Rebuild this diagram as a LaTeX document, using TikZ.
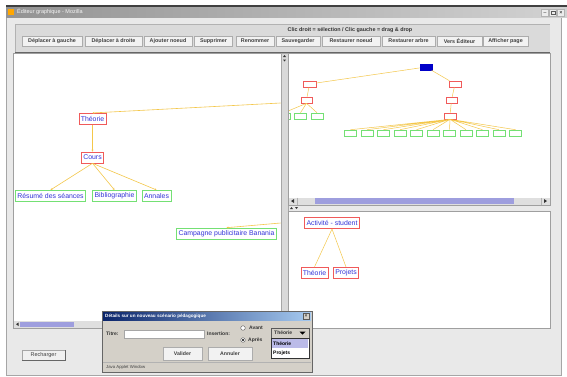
\documentclass[tikz,border=0pt]{standalone}
\usepackage{fontspec}
\setmainfont{Liberation Sans}
\usetikzlibrary{arrows.meta}

\definecolor{fondfen}{HTML}{E9E9E9}
\definecolor{fondbarre}{HTML}{DADADA}
\definecolor{lavande}{HTML}{9E9EDE}
\definecolor{lien}{HTML}{F4C74A}
\definecolor{rouge}{HTML}{F05A5A}
\definecolor{vert}{HTML}{74E074}
\definecolor{texte}{HTML}{3434D8}
\definecolor{bleunoeud}{HTML}{0000C8}
\definecolor{bleutitre}{HTML}{0A246A}
\definecolor{bleuclair}{HTML}{A6CAF0}
\definecolor{grisdlg}{HTML}{D4D0C8}

\newcommand{\taille}[1]{\fontsize{#1}{#1}\selectfont}

\begin{document}
\begin{tikzpicture}[
    x=1pt, y=-1pt,
    bouton/.style={draw=gray!65, fill=gray!10, minimum height=10pt, inner sep=0,
                   font=\taille{5.4}\bfseries, text=black!75},
    noeudR/.style={draw=rouge, line width=0.6pt, fill=white, inner xsep=2pt, inner ysep=0,
                   minimum height=11.5pt, font=\taille{6.9}, text=texte},
    noeudV/.style={noeudR, draw=vert},
    mini/.style={draw=rouge, line width=0.6pt, fill=white, minimum width=12pt,
                 minimum height=6pt, inner sep=0},
    miniV/.style={mini, draw=vert},
    lienA/.style={draw=lien, line width=0.6pt, -{Stealth[length=2pt,width=2pt]}},
    lienB/.style={draw=lien, line width=0.5pt},
    panneau/.style={draw=gray!75, line width=0.9pt, fill=white},
    etiq/.style={anchor=west, inner sep=0, font=\taille{5}\bfseries, text=black!80}
]
\useasboundingbox (0,0) rectangle (567,376);
\fill[white] (0,0) rectangle (567,376);

% ============================================
% FENETRE ET BARRE DE TITRE
% ============================================
\fill[fondfen, draw=gray!70] (6,17) rectangle (561,375);
\fill[black!75] (6,5) rectangle (567,7);
\shade[left color=gray!85, right color=gray!35] (6,7) rectangle (567,17);
\fill[orange!70!yellow] (8,9) rectangle (14,15);
\node[anchor=west, inner sep=0, font=\taille{5.5}, text=white!92!gray] (titre) at (17,12)
    {Éditeur graphique - Mozilla};
\node[draw=gray!60, fill=gray!15, minimum size=7pt, inner sep=0, font=\taille{5}] (reduire) at (545,12.5) {\_};
\node[draw=gray!60, fill=gray!15, minimum size=7pt, inner sep=0] (agrandir) at (553,12.5) {};
\draw[gray!70!black, line width=0.4pt] (551,11) rectangle (555,14.5);
\node[draw=gray!60, fill=gray!15, minimum size=7pt, inner sep=0, font=\taille{5.5}] (fermer) at (561,12.5) {×};

% ============================================
% BARRE D'OUTILS
% ============================================
\fill[fondbarre] (15,24) rectangle (550,52);
\draw[gray!60] (15,52) -- (15,24) -- (550,24);
\draw[gray!80!black, line width=0.8pt] (15,52) -- (550,52);

\node[font=\taille{5.4}\bfseries, text=black!80, inner sep=0] (aide) at (350,30)
    {Clic droit = sélection / Clic gauche = drag \& drop};

\node[bouton, minimum width=60pt] (bGauche) at (52,41) {Déplacer à gauche};
\node[bouton, minimum width=57pt] (bDroite) at (113.5,41) {Déplacer à droite};
\node[bouton, minimum width=48pt] (bAjouter) at (168,41) {Ajouter noeud};
\node[bouton, minimum width=38pt] (bSupprimer) at (213.5,41) {Supprimer};
\node[bouton, minimum width=38pt] (bRenommer) at (255,41) {Renommer};
\node[bouton, minimum width=44pt] (bSauver) at (298,41) {Sauvegarder};
\node[bouton, minimum width=58pt] (bRestNoeud) at (351,41) {Restaurer noeud};
\node[bouton, minimum width=53pt] (bRestArbre) at (408.5,41) {Restaurer arbre};
\node[bouton, minimum width=45pt] (bEditeur) at (459.5,41) {Vers Éditeur};
\node[bouton, minimum width=45pt] (bAfficher) at (505.5,41) {Afficher page};

% ============================================
% PANNEAU GAUCHE (vue détaillée)
% ============================================
\draw[panneau] (13,53) rectangle (281,328);
\fill[gray!25] (14,321) rectangle (280.5,327.5);
\fill[lavande] (20,321.5) rectangle (74,327);
\fill[black!80] (16,324.2) -- (18.5,322.5) -- (18.5,326) -- cycle;

% barre de séparation verticale
\fill[gray!30, draw=gray!70] (281,53) rectangle (288,328);
\fill[black!80] (283,57) -- (286,57) -- (284.5,55) -- cycle;
\fill[black!80] (283,59.5) -- (286,59.5) -- (284.5,61.5) -- cycle;

% noeuds
\node[noeudR] (theorie) at (92.5,119) {Théorie};
\node[noeudR, minimum height=11pt] (cours) at (92.5,157.5) {Cours};
\node[noeudV] (resume) at (50.5,196) {Résumé des séances};
\node[noeudV] (biblio) at (114.5,196) {Bibliographie};
\node[noeudV] (annales) at (156.5,196) {Annales};
\node[noeudV, minimum height=11pt] (campagne) at (226.5,233.5) {Campagne publicitaire Banania};
\coordinate (versRacine) at (280.5,103);
\coordinate (versCampagne) at (280.5,223);

% liens
\draw[lienA] (versRacine) -- (theorie.north);
\draw[lienA] (theorie.south) -- (cours.north);
\draw[lienA] (cours.south) -- (resume.north);
\draw[lienA] (cours.south) -- (biblio.north);
\draw[lienA] (cours.south) -- (annales.north);
\draw[lienA] (versCampagne) -- (campagne.north);

% ============================================
% PANNEAU HAUT DROIT (vue d'ensemble)
% ============================================
\draw[panneau] (288,53) rectangle (550,205);
\fill[gray!25] (289,197.5) rectangle (549.5,204.5);
\fill[lavande] (315,198) rectangle (514,204);
\draw[gray!60] (297,197.5) -- (297,204.5) (541,197.5) -- (541,204.5);
\fill[black!80] (291,201) -- (294,199) -- (294,203) -- cycle;
\fill[black!80] (547,201) -- (544,199) -- (544,203) -- cycle;
\fill[black!80] (290,209) -- (293,209) -- (291.5,207) -- cycle;
\fill[black!80] (295,207) -- (298,207) -- (296.5,209) -- cycle;

\begin{scope}
\clip (289,54) rectangle (549,196.5);
\node[mini, fill=bleunoeud, draw=bleunoeud] (racine) at (426,67) {};
\node[mini, minimum width=13pt] (g1) at (309.5,84) {};
\node[mini, minimum width=12pt] (d1) at (455,84) {};
\node[mini, minimum width=11pt] (g2) at (306.5,100) {};
\node[mini, minimum width=11pt] (d2) at (451.5,100) {};
\node[mini] (d3) at (450,116) {};
\node[miniV] (gf1) at (284,116) {};
\node[miniV] (gf2) at (300.5,116) {};
\node[miniV] (gf3) at (317,116) {};
\node[miniV] (df1) at (350.5,133) {};
\node[miniV] (df2) at (367,133) {};
\node[miniV] (df3) at (383.5,133) {};
\node[miniV] (df4) at (400,133) {};
\node[miniV] (df5) at (416.5,133) {};
\node[miniV] (df6) at (433,133) {};
\node[miniV] (df7) at (449.5,133) {};
\node[miniV] (df8) at (466,133) {};
\node[miniV] (df9) at (482.5,133) {};
\node[miniV] (df10) at (499,133) {};
\node[miniV] (df11) at (515.5,133) {};

\draw[lienB] (racine) -- (g1) (racine) -- (d1) (g1) -- (g2) (d1) -- (d2) (d2) -- (d3);
\draw[lienB] (g2.south) -- (gf1.north) (g2.south) -- (gf2.north) (g2.south) -- (gf3.north);
\draw[lienB] (d3.south) -- (df1.north) (d3.south) -- (df2.north) (d3.south) -- (df3.north)
    (d3.south) -- (df4.north) (d3.south) -- (df5.north) (d3.south) -- (df6.north)
    (d3.south) -- (df7.north) (d3.south) -- (df8.north) (d3.south) -- (df9.north)
    (d3.south) -- (df10.north) (d3.south) -- (df11.north);
\end{scope}

% ============================================
% PANNEAU BAS DROIT (scénario)
% ============================================
\draw[panneau] (288,211) rectangle (550,328);
\node[noeudR] (activite) at (332,223) {Activité - student};
\node[noeudR] (theorie2) at (314.5,273) {Théorie};
\node[noeudR] (projets) at (346,273) {Projets};
\draw[lienB] (activite.south) -- (theorie2.north);
\draw[lienB] (activite.south) -- (projets.north);

% bouton Recharger
\node[draw=gray!70, fill=gray!12, minimum width=43pt, minimum height=10pt, inner sep=0,
      font=\taille{5.5}, text=black!75] (recharger) at (43.5,355) {Recharger};
\draw[black!60, line width=0.6pt] (22,360) -- (65,360) -- (65,350);

% ============================================
% BOITE DE DIALOGUE
% ============================================
\fill[grisdlg, draw=gray!80!black, line width=0.6pt] (102,311) rectangle (312,372);
\shade[left color=bleutitre, right color=bleuclair] (103,312) rectangle (311,320.5);
\node[anchor=west, inner sep=0, font=\taille{4.6}\bfseries, text=white] (titreDlg) at (105,316)
    {Détails sur un nouveau scénario pédagogique};
\node[draw=gray!70!black, fill=grisdlg, minimum size=6.5pt, inner sep=0, font=\taille{5}] (fermerDlg)
    at (306,316.3) {×};

\node[etiq] (lblTitre) at (106,334) {Titre:};
\fill[white, draw=gray!70] (124,330) rectangle (204,338);
\node[etiq] (lblInsertion) at (207,334) {Insertion:};

\draw[gray!70!black, fill=white] (243,328) circle[radius=2.3pt];
\node[etiq] (avant) at (249,327.5) {Avant};
\draw[gray!70!black, fill=white] (243,340) circle[radius=2.3pt];
\fill[black] (243,340) circle[radius=1.1pt];
\node[etiq] (apres) at (248,340) {Après};

% liste déroulante
\fill[grisdlg, draw=gray!70!black] (271,328) rectangle (309,338);
\node[etiq] (choix) at (274,333) {Théorie};
\fill[black] (299.5,331.5) -- (305.5,331.5) -- (302.5,334.5) -- cycle;
\fill[white, draw=black!80] (271,338) rectangle (309,358);
\fill[lavande!70] (272,339) rectangle (308,348);
\node[etiq, text=black] (itemTheorie) at (273,343.5) {Théorie};
\node[etiq, text=black] (itemProjets) at (273,353) {Projets};

\node[bouton, minimum width=39pt, minimum height=13pt, font=\taille{5.2}\bfseries] (valider)
    at (182.5,353.5) {Valider};
\node[bouton, minimum width=44pt, minimum height=13pt, font=\taille{5.2}\bfseries] (annuler)
    at (230,353.5) {Annuler};

\draw[gray!60] (103,362.5) -- (311,362.5);
\node[anchor=west, inner sep=0, font=\taille{4.3}, text=black!75] (javaApplet) at (106,367)
    {Java Applet Window};

\end{tikzpicture}
\end{document}
